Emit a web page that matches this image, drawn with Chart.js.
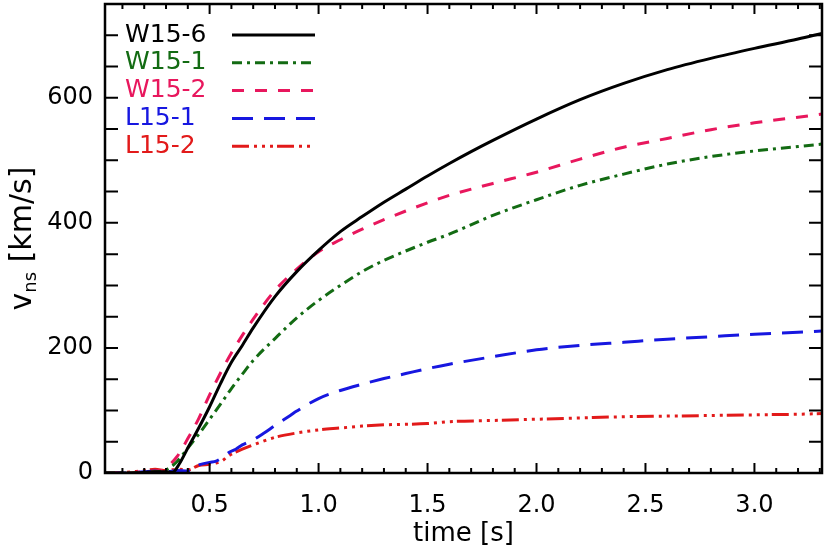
<!DOCTYPE html>
<html lang="en">
<head>
  <meta charset="UTF-8" />
  <title>v_ns vs time</title>
  <script src="https://cdn.jsdelivr.net/npm/chart.js"></script>
  <style>
    html, body { margin: 0; padding: 0; background: #fff; }
    #wrap { width: 828px; height: 553px; }
  </style>
</head>
<body>
  <div id="wrap"><canvas id="graf" width="828" height="553"></canvas></div>

  <script>
    // --- data ---
    const seriesNames  = ['W15-6', 'W15-1', 'W15-2', 'L15-1', 'L15-2'];
    const seriesColors = ['#000000', '#136b13', '#e8175d', '#1717e0', '#e21a1a'];

    const timeW156 = [0.02,0.1,0.2,0.25,0.3,0.33,0.36,0.4,0.45,0.5,0.55,0.6,0.65,0.7,0.8,0.9,1.0,1.1,1.2,1.3,1.4,1.5,1.6,1.7,1.8,2.0,2.2,2.4,2.6,2.8,3.0,3.2,3.31];
    const velW156  = [0,0,1,2,2,1,14,40,72,106,143,177,204,232,282,322,356,386,410,433,454,475,495,514,532,566,597,623,645,663,679,694,703];

    const timeW151 = [0.02,0.1,0.2,0.25,0.28,0.3,0.35,0.4,0.45,0.5,0.55,0.6,0.65,0.7,0.8,0.9,1.0,1.1,1.2,1.3,1.4,1.5,1.6,1.8,2.0,2.2,2.4,2.6,2.8,3.0,3.2,3.31];
    const velW151  = [0,0,1,2,3,5,18,40,62,86,110,135,158,180,215,248,276,300,322,340,355,369,382,412,437,460,478,494,506,515,522,526];

    const timeW152 = [0.02,0.1,0.2,0.25,0.28,0.3,0.35,0.4,0.45,0.5,0.55,0.6,0.65,0.7,0.8,0.9,1.0,1.1,1.2,1.3,1.4,1.5,1.6,1.8,2.0,2.2,2.4,2.6,2.8,3.0,3.2,3.31];
    const velW152  = [0,0,2,3,4,8,26,55,87,125,160,192,220,246,292,326,354,373,390,405,419,432,444,463,481,502,521,535,549,560,569,574];

    const timeL151 = [0.02,0.1,0.15,0.2,0.25,0.3,0.35,0.4,0.42,0.45,0.5,0.53,0.56,0.59,0.62,0.65,0.7,0.75,0.8,0.87,0.9,1.0,1.1,1.2,1.3,1.4,1.5,1.6,1.8,2.0,2.2,2.4,2.6,2.8,3.0,3.2,3.31];
    const velL151  = [0,0,1,2,3,2,4,3,10,13,17,19,25,33,38,45,53,64,76,92,99,119,132,142,151,159,167,174,186,197,204,209,214,218,222,225,227];

    const timeL152 = [0.02,0.1,0.15,0.2,0.25,0.3,0.35,0.4,0.45,0.5,0.53,0.56,0.58,0.6,0.65,0.7,0.8,0.9,1.0,1.1,1.2,1.3,1.5,1.6,1.8,2.0,2.2,2.4,2.6,2.8,3.0,3.2,3.31];
    const velL152  = [0,1,2,4,6,4,6,5,12,14,16,20,26,30,38,45,57,64,69,72,75,77,79,82,84,86,88,90,91,92,93,94,95];

    const xTickLabels = [0.5, 1.0, 1.5, 2.0, 2.5, 3.0];
    const yTickLabels = [0, 200, 400, 600];

    const allTimes = [timeW156, timeW151, timeW152, timeL151, timeL152];
    const allVels  = [velW156, velW151, velW152, velL151, velL152];
    const dashes   = [[], [10, 5, 3, 5], [12, 11], [21, 11], [17, 5, 3, 5, 3, 5, 3, 4]];

    const FONT = 'DejaVu Sans';

    const datasets = seriesNames.map((name, i) => ({
      label: name,
      data: allTimes[i].map((t, k) => ({ x: t, y: allVels[i][k] })),
      borderColor: seriesColors[i],
      borderWidth: 3,
      borderDash: dashes[i],
      pointRadius: 0,
      cubicInterpolationMode: 'monotone',
      fill: false
    }));

    // frame, inward ticks, x tick labels, legend, axis titles
    const bingkai = {
      id: 'bingkai',
      afterDraw(chart) {
        const { ctx, chartArea: a, scales: { x, y } } = chart;
        ctx.save();
        ctx.strokeStyle = '#000';
        ctx.lineWidth = 2;
        ctx.setLineDash([]);

        ctx.beginPath();
        // x ticks, bottom and top
        for (let i = 1; i <= 33; i++) {
          const px = x.getPixelForValue(i / 10);
          const len = (i % 5 === 0) ? 10 : 5;
          ctx.moveTo(px, a.bottom); ctx.lineTo(px, a.bottom - len);
          ctx.moveTo(px, a.top);    ctx.lineTo(px, a.top + len);
        }
        // y ticks, left and right
        for (let v = 50; v < 750; v += 50) {
          const py = y.getPixelForValue(v);
          ctx.moveTo(a.left, py);  ctx.lineTo(a.left + 13, py);
          ctx.moveTo(a.right, py); ctx.lineTo(a.right - 13, py);
        }
        ctx.stroke();

        ctx.lineWidth = 2.5;
        ctx.strokeRect(a.left, a.top, a.right - a.left, a.bottom - a.top);

        // x tick labels
        ctx.fillStyle = '#000';
        ctx.textAlign = 'center';
        ctx.textBaseline = 'alphabetic';
        ctx.font = '24px ' + FONT;
        xTickLabels.forEach(v => {
          ctx.fillText(v.toFixed(1), x.getPixelForValue(v), 512);
        });

        // legend
        ctx.textBaseline = 'middle';
        ctx.textAlign = 'left';
        ctx.font = '25px ' + FONT;
        chart.data.datasets.forEach((ds, i) => {
          const ry = 35 + i * 27.8;
          ctx.fillStyle = ds.borderColor;
          ctx.fillText(ds.label, 125, ry);
          ctx.strokeStyle = ds.borderColor;
          ctx.lineWidth = 3;
          ctx.setLineDash(ds.borderDash);
          ctx.beginPath();
          ctx.moveTo(232, ry);
          ctx.lineTo(315, ry);
          ctx.stroke();
        });
        ctx.setLineDash([]);

        // x title
        ctx.fillStyle = '#000';
        ctx.textAlign = 'center';
        ctx.textBaseline = 'alphabetic';
        ctx.font = '26px ' + FONT;
        ctx.fillText('time [s]', (a.left + a.right) / 2, 541);

        // y title with subscript
        ctx.translate(31, (a.top + a.bottom) / 2);
        ctx.rotate(-Math.PI / 2);
        ctx.textAlign = 'left';
        ctx.font = '30px ' + FONT;
        const w1 = ctx.measureText('v').width;
        const w3 = ctx.measureText(' [km/s]').width;
        ctx.font = '18px ' + FONT;
        const w2 = ctx.measureText('ns').width;
        const x0 = -(w1 + w2 + w3) / 2;
        ctx.font = '30px ' + FONT;
        ctx.fillText('v', x0, 0);
        ctx.font = '18px ' + FONT;
        ctx.fillText('ns', x0 + w1, 5);
        ctx.font = '30px ' + FONT;
        ctx.fillText(' [km/s]', x0 + w1 + w2, 0);
        ctx.restore();
      }
    };

    const ctx = document.getElementById('graf').getContext('2d');
    new Chart(ctx, {
      type: 'line',
      data: { datasets: datasets },
      options: {
        responsive: false,
        animation: false,
        devicePixelRatio: 1,
        layout: { padding: { top: 4, right: 6, left: 0, bottom: 0 } },
        plugins: {
          legend: { display: false },
          tooltip: { enabled: false }
        },
        scales: {
          x: {
            type: 'linear',
            min: 0.02,
            max: 3.31,
            grid: { display: false, drawTicks: false },
            border: { display: false },
            afterBuildTicks: s => { s.ticks = xTickLabels.map(v => ({ value: v })); },
            afterFit: s => { s.height = 80; s.paddingLeft = 0; s.paddingRight = 0; },
            ticks: { display: false }
          },
          y: {
            type: 'linear',
            min: 0,
            max: 750,
            grid: { display: false, drawTicks: false },
            border: { display: false },
            afterBuildTicks: s => { s.ticks = yTickLabels.map(v => ({ value: v })); },
            afterFit: s => { s.width = 105; s.paddingTop = 0; s.paddingBottom = 0; },
            ticks: {
              padding: 12,
              color: '#000',
              font: { family: FONT, size: 24 },
              callback: v => String(v)
            }
          }
        }
      },
      plugins: [bingkai]
    });
  </script>
</body>
</html>
